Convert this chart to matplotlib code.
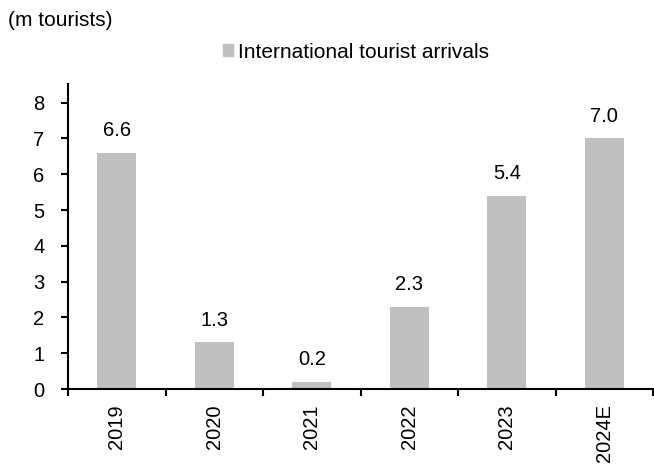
import matplotlib
matplotlib.use("Agg")
import matplotlib.pyplot as plt
import numpy as np
from matplotlib.patches import Patch

categories = ["2019", "2020", "2021", "2022", "2023", "2024E"]
values = [6.6, 1.3, 0.2, 2.3, 5.4, 7.0]
yticks = [0, 1, 2, 3, 4, 5, 6, 7, 8]
series_name = "International tourist arrivals"
unit_label = "(m tourists)"

plt.rcParams['font.family'] = ['Liberation Sans', 'DejaVu Sans']
FS = 14.5
FS_TOP = 15
bar_color = "#c0c0c0"

fig = plt.figure(figsize=(6.54, 4.65), dpi=100)
W, H = 654, 465
ax = fig.add_axes([68 / W, 1 - 389 / H, (653 - 68) / W, (389 - 84) / H])

x = np.arange(len(categories))
bars = ax.bar(x, values, width=0.4, color=bar_color, zorder=2)
for xi, v in zip(x, values):
    ax.annotate(f"{v:.1f}", (xi, v), xytext=(0, 12), textcoords="offset points",
                ha="center", va="baseline", fontsize=FS)

ax.set_xlim(-0.5, len(categories) - 0.5)
ax.set_ylim(0, 8.52)
ax.set_yticks(yticks)
ax.set_yticklabels([str(t) for t in yticks], fontsize=FS)
ax.set_xticks(np.arange(len(categories) + 1) - 0.5)
ax.set_xticklabels([])
ax.set_xticks(x, minor=True)
ax.set_xticklabels(categories, minor=True, rotation=90, fontsize=FS)
ax.tick_params(axis="x", which="minor", length=0, pad=11)
ax.tick_params(axis="x", which="major", length=5, width=1.5, direction="out")
ax.tick_params(axis="y", length=5, width=1.5, direction="out", pad=12)

for s in ["top", "right"]:
    ax.spines[s].set_visible(False)
for s in ["left", "bottom"]:
    ax.spines[s].set_linewidth(1.5)

fig.text(8 / W, 1 - 21 / H, unit_label, fontsize=FS_TOP, ha="left", va="center")
leg = fig.legend(handles=[Patch(color=bar_color, label=series_name)],
                 loc="center", bbox_to_anchor=(356 / W, 1 - 52 / H), frameon=False,
                 fontsize=FS_TOP, handlelength=0.5, handleheight=0.5, handletextpad=0.25)

fig.savefig("out.png", dpi=100)
